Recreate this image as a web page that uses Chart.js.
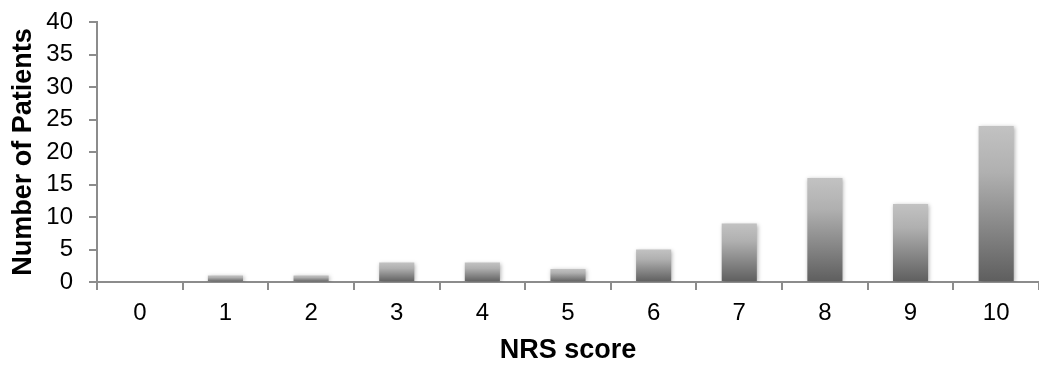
<!DOCTYPE html>
<html>
<head>
<meta charset="utf-8">
<script src="https://cdn.jsdelivr.net/npm/chart.js@4"></script>
<style>
  html, body { margin: 0; padding: 0; background: #fff; }
  #wrap { width: 1039px; height: 367px; }
</style>
</head>
<body>
<div id="wrap"><canvas id="myChart"></canvas></div>
<script>
const scores = ['0', '1', '2', '3', '4', '5', '6', '7', '8', '9', '10'];
const patients = [0, 1, 1, 3, 3, 2, 5, 9, 16, 12, 24];
const yTicks = [0, 5, 10, 15, 20, 25, 30, 35, 40];

// each bar gets its own light-to-dark gradient
const barFill = (context) => {
    const chart = context.chart;
    const y = chart.scales.y;
    if (!chart.chartArea || !y || context.type !== 'data') return '#909090';
    const top = y.getPixelForValue(context.raw);
    const bottom = y.getPixelForValue(0);
    if (bottom - top < 1) return '#909090';
    const g = chart.ctx.createLinearGradient(0, top, 0, bottom);
    g.addColorStop(0, '#c2c2c2');
    g.addColorStop(0.3, '#b0b0b0');
    g.addColorStop(1, '#5e5e5e');
    return g;
};

// soft shadow round the bars
const barShadow = {
    id: 'barShadow',
    beforeDatasetsDraw: (chart) => {
        const c = chart.ctx;
        c.save();
        c.shadowColor = 'rgba(0, 0, 0, 0.3)';
        c.shadowBlur = 4;
        c.shadowOffsetX = 1;
        c.shadowOffsetY = 1;
    },
    afterDatasetsDraw: (chart) => { chart.ctx.restore(); }
};

const axisColor = '#8c8c8c';
const family = '"Liberation Sans", Arial, sans-serif';
const tickFont = { family: family, size: 24 };
const titleFont = { family: family, size: 27, weight: 'bold' };

const ctx = document.getElementById('myChart').getContext('2d');
const myChart = new Chart(ctx, {
    type: 'bar',
    data: {
        labels: scores,
        datasets: [{
            label: 'Number of Patients',
            data: patients,
            backgroundColor: barFill,
            borderWidth: 0,
            categoryPercentage: 1,
            barPercentage: 0.41
        }]
    },
    options: {
        responsive: true,
        maintainAspectRatio: false,
        animation: false,
        layout: { padding: { top: 22, right: 0, left: 0, bottom: 0 } },
        plugins: {
            legend: { display: false },
            tooltip: { enabled: false }
        },
        scales: {
            x: {
                grid: {
                    display: true,
                    drawOnChartArea: false,
                    offset: true,
                    color: axisColor,
                    lineWidth: 2,
                    tickLength: 8
                },
                border: { display: true, color: axisColor, width: 2 },
                ticks: { color: '#000', font: tickFont, padding: 9, maxRotation: 0, autoSkip: false },
                title: {
                    display: true,
                    text: 'NRS score',
                    color: '#000',
                    font: titleFont,
                    padding: { top: 0, bottom: 0 }
                },
                afterFit: (scale) => {
                    scale.height = 85;
                    scale.paddingLeft = 0;
                    scale.paddingRight = 0;
                }
            },
            y: {
                min: 0,
                max: 40,
                afterBuildTicks: (scale) => { scale.ticks = yTicks.map(v => ({ value: v })); },
                grid: {
                    display: true,
                    drawOnChartArea: false,
                    color: axisColor,
                    lineWidth: 2,
                    tickLength: 8
                },
                border: { display: true, color: axisColor, width: 2 },
                ticks: { color: '#000', font: tickFont, padding: 16, autoSkip: false },
                title: {
                    display: true,
                    text: 'Number of Patients',
                    color: '#000',
                    font: titleFont,
                    padding: { top: 7, bottom: 0 }
                },
                afterFit: (scale) => {
                    scale.width = 97;
                    scale.paddingTop = 0;
                    scale.paddingBottom = 0;
                }
            }
        }
    },
    plugins: [barShadow]
});
</script>
</body>
</html>
